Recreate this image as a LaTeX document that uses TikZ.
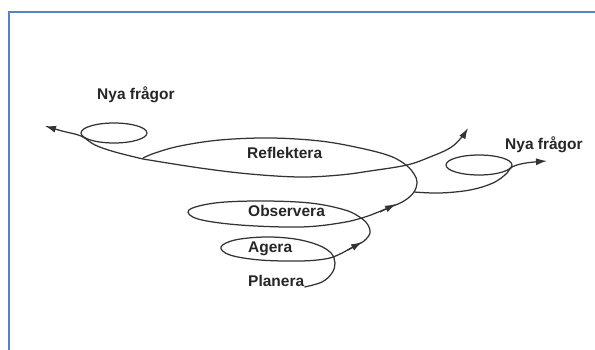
\documentclass[tikz,border=0pt]{standalone}
\usepackage{fontspec}
\setmainfont{Liberation Sans}
\usepackage{xcolor}
\usetikzlibrary{positioning, arrows.meta}
\definecolor{framecol}{RGB}{84,130,196}

\begin{document}
\begin{tikzpicture}[x=1pt, y=-1pt,
    word/.style={font=\fontsize{15.5}{18}\selectfont\bfseries, text=black!85, inner sep=0pt, anchor=base west},
    curve/.style={line width=1.25pt, draw=black!80, line join=round},
    arrow/.style={curve, -{Latex[length=11pt, width=7pt]}},
    frame/.style={line width=2.2pt, draw=framecol}
]
\useasboundingbox (0,0) rectangle (595,350);
\draw[frame] (9,350) -- (9,12) -- (595,12);

% Nodes
\node[word] (newleft) at (97,100) {Nya frågor};
\node[word] (newright) at (505,150) {Nya frågor};
\node[word] (reflect) at (247,159) {Reflektera};
\node[word] (observe) at (248,217) {Observera};
\node[word] (act) at (248,253) {Agera};
\node[word] (plan) at (248,287) {Planera};

\coordinate (start) at (plan.base east);
\coordinate (fork) at (414,192);
\coordinate (lefttip) at (45,126);
\coordinate (uptip) at (468,128);
\coordinate (righttip) at (547,161);

% Spiral
\draw[curve] plot[smooth, tension=0.6] coordinates {
    (start) (322,282) (332,273) (335,263) (331,253) (318,245) (295,239)
    (265,237) (235,240) (221,247) (230,255) (260,260) (300,261) (325,259)
    (338,255) (353,247) (364,241) (370,233) (368,225) (361,218) (345,210)
    (310,203) (260,201) (215,203) (189,210) (198,219) (240,225) (300,227)
    (340,223) (365,217) (388,208) (404,201) (414,192) (417,182) (414,174)
    (406,165) (390,156) (360,148) (320,141) (270,138) (220,140) (180,146)
    (155,153) (143,158)};

% Arrows
\draw[arrow] plot[smooth, tension=0.6] coordinates {
    (143,159) (200,168) (250,174) (300,177) (340,175) (370,171) (407,165)
    (430,157) (450,148) (461,138) (uptip)};
\draw[arrow] plot[smooth, tension=0.6] coordinates {
    (143,159) (115,152) (95,145) (81,136) (62,131) (lefttip)};
\draw[arrow] plot[smooth, tension=0.6] coordinates {
    (fork) (440,193) (470,190) (493,183) (506,174) (512,167) (526,163) (righttip)};
\draw[arrow] (348,250) -- (362,242);
\draw[arrow] (380,212) -- (396,204);

% Loops
\draw[curve] (114,133) ellipse [x radius=33, y radius=10];
\draw[curve] (479,165) ellipse [x radius=33, y radius=10];
\end{tikzpicture}
\end{document}
